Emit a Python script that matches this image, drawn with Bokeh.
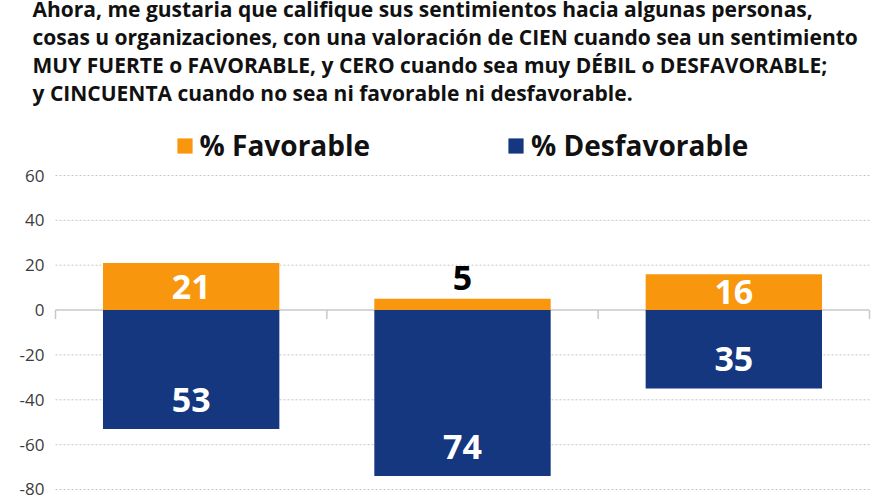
import numpy as np
from bokeh.plotting import figure
from bokeh.models import Range1d, Label
from bokeh.embed import file_html
from bokeh.resources import INLINE
from bokeh.core.properties import value

# ---------------- data ----------------
title_lines = [
    "Ahora, me gustaria que califique sus sentimientos hacia algunas personas,",
    "cosas u organizaciones, con una valoración de CIEN cuando sea un sentimiento",
    "MUY FUERTE o FAVORABLE, y CERO cuando sea muy DÉBIL o DESFAVORABLE;",
    "y CINCUENTA cuando no sea ni favorable ni desfavorable.",
]
series_names = ["% Favorable", "% Desfavorable"]
favorable = [21, 5, 16]
desfavorable = [53, 74, 35]
y_ticks = [60, 40, 20, 0, -20, -40, -60, -80]

# ---------------- style ----------------
ORANGE = "#F8970E"
NAVY = "#14377F"
FONT = "Open Sans"
W, H = 896, 504
PLOT_L, PLOT_R = 55, 869          # horizontal extent of the chart area (px)
Y0, Y1 = -86.69, 138.03
BAR_W = 0.65

n = len(favorable)
PPX = (PLOT_R - PLOT_L) / n
PPU = H / (Y1 - Y0)
xs = np.arange(n) + 0.5
fav = np.array(favorable, dtype=float)
neg = -np.array(desfavorable, dtype=float)

p = figure(width=W, height=H,
           x_range=Range1d(-PLOT_L / PPX, n + (W - PLOT_R) / PPX),
           y_range=Range1d(Y0, Y1),
           output_backend="svg", toolbar_location=None,
           x_axis_type=None, y_axis_type=None,
           min_border_left=0, min_border_right=0, min_border_top=0, min_border_bottom=0)
p.outline_line_color = None
p.background_fill_color = "white"
p.border_fill_color = "white"
p.grid.visible = False

# dashed grid lines across the chart area
grid_y = [t for t in y_ticks if t != 0]
p.segment(x0=np.zeros(len(grid_y)), y0=grid_y, x1=np.full(len(grid_y), n), y1=grid_y,
          line_color="#c4c4c4", line_width=1, line_dash="2 2", level="underlay")

# y tick labels
p.text(x=np.zeros(len(y_ticks)), y=y_ticks, text=[str(t) for t in y_ticks],
       x_offset=-11, text_align="right", text_baseline="middle",
       text_font=value(FONT), text_font_size="17px", text_color="#3c3c3c")

# zero line and category boundary ticks
bounds = np.arange(n + 1)
p.segment(x0=[0], y0=[0], x1=[n], y1=[0], line_color="#c8c8c8", line_width=1.5, level="underlay")
tick_len = 9 / PPU
p.segment(x0=bounds, y0=np.zeros(n + 1), x1=bounds, y1=np.full(n + 1, -tick_len),
          line_color="#c8c8c8", line_width=1.5, level="underlay")

# bars
p.vbar(x=xs, top=fav, bottom=0, width=BAR_W, fill_color=ORANGE, line_color=None,
       legend_label=series_names[0])
p.vbar(x=xs, top=0, bottom=neg, width=BAR_W, fill_color=NAVY, line_color=None,
       legend_label=series_names[1])

# bar labels
inside = fav >= 10
fav_y = np.where(inside, fav / 2, fav + 9.5)
fav_col = ["white" if i else "black" for i in inside]
p.text(x=xs, y=fav_y, text=[str(v) for v in favorable], text_color=fav_col,
       text_align="center", text_baseline="middle", text_font=value(FONT),
       text_font_style="bold", text_font_size="34px")
p.text(x=xs, y=neg + 13, text=[str(v) for v in desfavorable], text_color="white",
       text_align="center", text_baseline="middle", text_font=value(FONT),
       text_font_style="bold", text_font_size="34px")

# legend
lg = p.legend[0]
lg.orientation = "horizontal"
lg.location = (174.6, 340)
lg.padding = 0
lg.margin = 0
lg.spacing = 136
lg.glyph_width = 19
lg.glyph_height = 19
lg.label_standoff = 6
lg.border_line_color = None
lg.background_fill_alpha = 0
lg.label_text_font = FONT
lg.label_text_font_style = "bold"
lg.label_text_font_size = "28px"
lg.label_text_color = "#111111"

# title lines
baselines = [8, 36, 64.5, 92.5]
for txt, b in zip(title_lines, baselines):
    p.add_layout(Label(x=32, y=H - b, x_units="screen", y_units="screen", text=txt,
                       text_font=FONT, text_font_style="bold", text_font_size="21px",
                       text_color="#111111", text_baseline="alphabetic"))

open("out.html", "w").write(file_html(p, INLINE))
